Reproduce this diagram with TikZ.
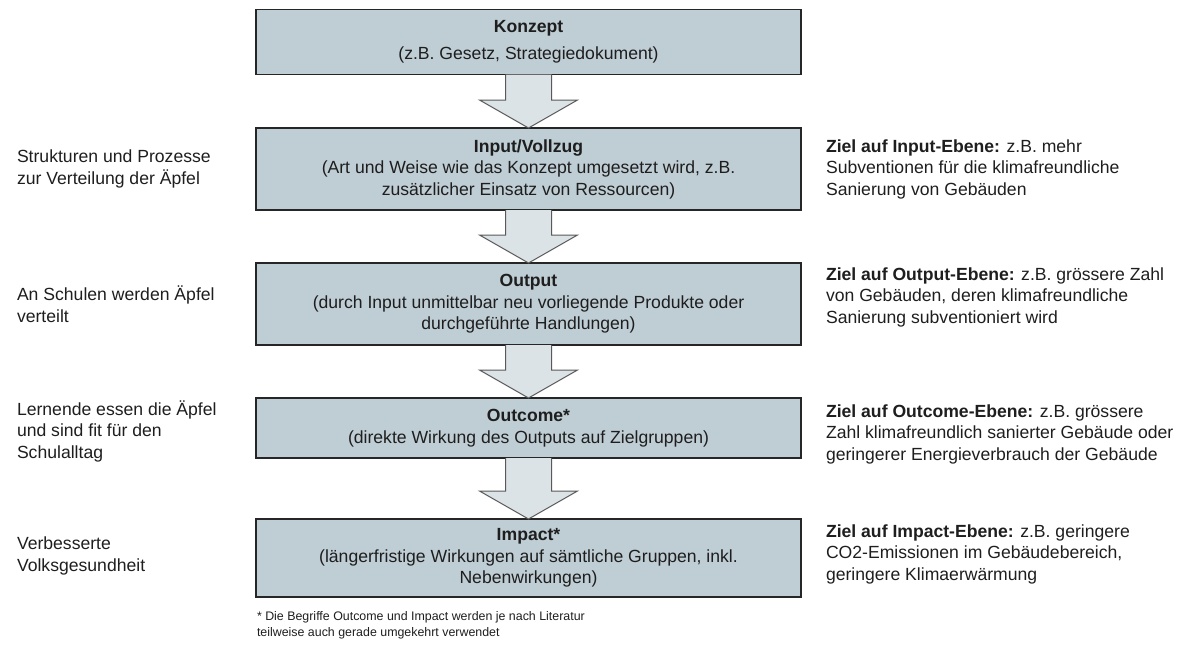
\documentclass[tikz,border=0pt]{standalone}
\usepackage{fontspec}
\setmainfont{Liberation Sans}
\usetikzlibrary{calc}
\definecolor{boxfill}{HTML}{BFCDD4}
\definecolor{arrowfill}{HTML}{DCE3E7}
\definecolor{textgray}{HTML}{1E1E1E}

\begin{document}
\begin{tikzpicture}[x=1pt, y=-1pt,
  every node/.style={inner sep=0pt, outer sep=0pt, text=textgray},
  stage/.style={draw=black!85, line width=1.2pt, fill=boxfill, minimum width=545pt, align=center, font=\fontsize{17.6}{21.5}\selectfont},
  side/.style={anchor=west, align=left, font=\fontsize{17.6}{21.5}\selectfont},
  blockarrow/.style={draw=black!65, line width=1pt, fill=arrowfill, to path={let \p1=(\tikztostart), \p2=(\tikztotarget) in (\x1-23pt,\y1) -- (\x1-23pt,\y2+28pt) -- (\x1-49pt,\y2+28pt) -- (\x2,\y2) -- (\x1+49pt,\y2+28pt) -- (\x1+23pt,\y2+28pt) -- (\x1+23pt,\y1)}}]
\useasboundingbox (0,0) rectangle (1199,646);

\node[stage, minimum height=65pt] (konzept) at (528.5,42) {\textbf{Konzept}\\[6pt](z.B. Gesetz, Strategiedokument)};
\node[stage, minimum height=82pt] (input) at (528.5,169) {\textbf{Input/Vollzug}\\(Art und Weise wie das Konzept umgesetzt wird, z.B.\\zusätzlicher Einsatz von Ressourcen)};
\node[stage, minimum height=82pt] (output) at (528.5,304) {\textbf{Output}\\(durch Input unmittelbar neu vorliegende Produkte oder\\durchgeführte Handlungen)};
\node[stage, minimum height=60pt] (outcome) at (528.5,428) {\textbf{Outcome*}\\(direkte Wirkung des Outputs auf Zielgruppen)};
\node[stage, minimum height=78pt] (impact) at (528.5,558) {\textbf{Impact*}\\(längerfristige Wirkungen auf sämtliche Gruppen, inkl.\\Nebenwirkungen)};

\draw[blockarrow] (konzept.south) to (input.north);
\draw[blockarrow] (input.south) to (output.north);
\draw[blockarrow] (output.south) to (outcome.north);
\draw[blockarrow] (outcome.south) to (impact.north);

\node[side] (strukturen) at (17,169) {Strukturen und Prozesse\\zur Verteilung der Äpfel};
\node[side] (schulen) at (17,304) {An Schulen werden Äpfel\\verteilt};
\node[side] (lernende) at (17,431) {Lernende essen die Äpfel\\und sind fit für den\\Schulalltag};
\node[side] (gesundheit) at (17,556) {Verbesserte\\Volksgesundheit};

\node[side] (zielinput) at (826,169) {\textbf{Ziel auf Input-Ebene:} z.B. mehr\\Subventionen für die klimafreundliche\\Sanierung von Gebäuden};
\node[side] (zieloutput) at (826,297) {\textbf{Ziel auf Output-Ebene:} z.B. grössere Zahl\\von Gebäuden, deren klimafreundliche\\Sanierung subventioniert wird};
\node[side] (zieloutcome) at (826,434) {\textbf{Ziel auf Outcome-Ebene:} z.B. grössere\\Zahl klimafreundlich sanierter Gebäude oder\\geringerer Energieverbrauch der Gebäude};
\node[side] (zielimpact) at (826,554) {\textbf{Ziel auf Impact-Ebene:} z.B. geringere\\CO2-Emissionen im Gebäudebereich,\\geringere Klimaerwärmung};

\node[anchor=north west, align=left, font=\fontsize{12.4}{15.5}\selectfont] (fussnote) at (257,612) {* Die Begriffe Outcome und Impact werden je nach Literatur\\teilweise auch gerade umgekehrt verwendet};
\end{tikzpicture}
\end{document}
